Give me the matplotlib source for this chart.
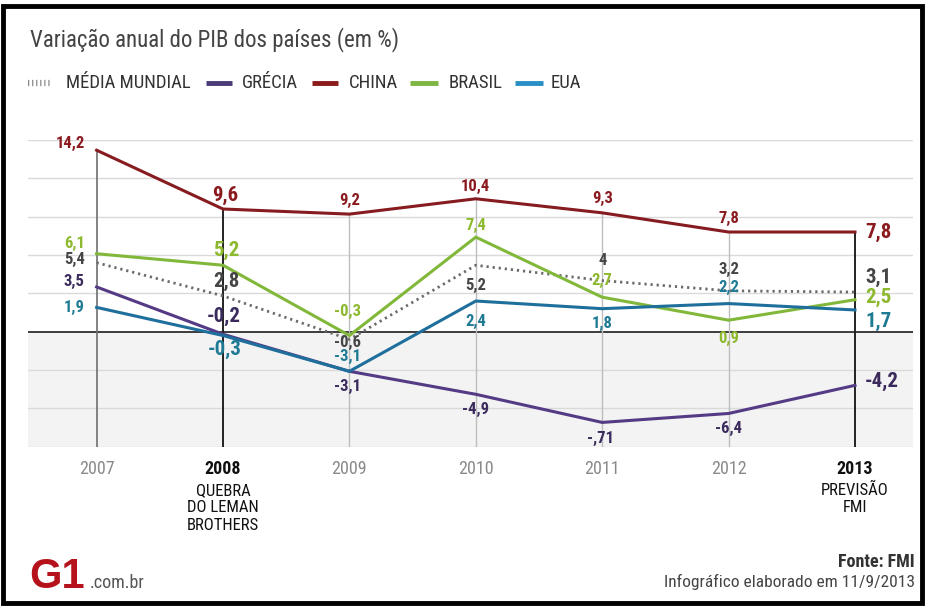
import matplotlib
matplotlib.use("Agg")
import matplotlib.pyplot as plt
from matplotlib import font_manager
from matplotlib.lines import Line2D
from matplotlib.patches import Rectangle
import matplotlib.transforms as mtransforms

# ---------------- data ----------------
years = [2007, 2008, 2009, 2010, 2011, 2012, 2013]
media_mundial = [5.4, 2.8, -0.6, 5.2, 4.0, 3.2, 3.1]
grecia = [3.5, -0.2, -3.1, -4.9, -7.1, -6.4, -4.2]
china = [14.2, 9.6, 9.2, 10.4, 9.3, 7.8, 7.8]
brasil = [6.1, 5.2, -0.3, 7.4, 2.7, 0.9, 2.5]
eua = [1.9, -0.3, -3.1, 2.4, 1.8, 2.2, 1.7]
label_overrides = {("MÉDIA MUNDIAL", 2011): "4", ("GRÉCIA", 2011): "-,71"}
year_notes = {2008: "QUEBRA\nDO LEMAN\nBROTHERS", 2013: "PREVISÃO\nFMI"}
title = "Variação anual do PIB dos países (em %)"
source = "Fonte: FMI"
credit = "Infográfico elaborado em 11/9/2013"

# ---------------- style ----------------
avail = {f.name for f in font_manager.fontManager.ttflist}
narrow = next((f for f in ["Liberation Sans Narrow", "Roboto Condensed", "Liberation Sans"] if f in avail), "DejaVu Sans")
plt.rcParams["font.family"] = [narrow, "DejaVu Sans"]

series = [
    ("MÉDIA MUNDIAL", media_mundial, "#6b6b6b", "#454545"),
    ("GRÉCIA", grecia, "#553a85", "#3b2a5c"),
    ("CHINA", china, "#861b20", "#8b1a1f"),
    ("BRASIL", brasil, "#82b83a", "#8db92e"),
    ("EUA", eua, "#1e6f9c", "#1f7a94"),
]

# label offsets in pixels (dx, dy) per series per year
offsets = {
    "CHINA":         [(-12, 7), (2, 14), (0, 14), (0, 12), (0, 14), (0, 14), (10, 0)],
    "BRASIL":        [(-12, 10), (3, 15), (-2, 24), (0, 12), (0, 17), (0, -18), (10, 2)],
    "MÉDIA MUNDIAL": [(-12, 3), (3, 14), (-2, -3), (0, -20), (0, 20), (0, 21), (10, 15)],
    "GRÉCIA":        [(-12, 5), (1, 18), (-2, -15), (0, -15), (-2, -16), (0, -15), (10, 4)],
    "EUA":           [(-12, 0), (2, -14), (-2, 15), (0, -20), (0, -15), (0, 16), (10, -11)],
}

W, H = 928, 606
fig = plt.figure(figsize=(W / 100, H / 100), dpi=100)
fig.patch.set_facecolor("white")

# axes placed in pixel geometry
left_px, right_px, top_px, bottom_px = 28, 913, 140.0, 446.7
ax = fig.add_axes([left_px / W, (H - bottom_px) / H, (right_px - left_px) / W, (bottom_px - top_px) / H])
ax.set_xlim(2006.457, 2013.459)
ax.set_ylim(-9, 15)
ax.axis("off")

# background for negative region
ax.axhspan(-9, 0, color="#f3f3f3", zorder=0)
for g in [-9, -6, -3, 3, 6, 9, 12, 15]:
    ax.axhline(g, color="#dadada", lw=1.0, zorder=1)
ax.axhline(0, color="#3c3c3c", lw=1.4, zorder=2)

# vertical year lines up to the top series value
for i, yr in enumerate(years):
    if yr in (2008, 2013):
        c, lw = "#222222", 1.4
    elif yr == 2007:
        c, lw = "#6e6e6e", 1.2
    else:
        c, lw = "#bdbdbd", 1.0
    ax.vlines(yr, -9, china[i], color=c, lw=lw, zorder=2)

# series lines
for name, vals, lc, tc in series:
    if name == "MÉDIA MUNDIAL":
        ax.plot(years, vals, color=lc, lw=2.0, linestyle=(0, (0.8, 1.4)), zorder=3)
    else:
        ax.plot(years, vals, color=lc, lw=2.2, zorder=4, solid_joinstyle="miter")

# data labels
for name, vals, lc, tc in series:
    for i, (yr, v) in enumerate(zip(years, vals)):
        txt = label_overrides.get((name, yr), f"{v:.1f}".replace(".", ","))
        dx, dy = offsets[name][i]
        big = yr in (2008, 2013)
        ha = "right" if yr == 2007 else ("left" if yr == 2013 else "center")
        ax.annotate(txt, xy=(yr, v), xytext=(dx, dy), textcoords="offset pixels",
                    ha=ha, va="center", fontsize=15 if big else 12,
                    fontweight="bold", color=tc, zorder=6)

# x labels
trans = mtransforms.blended_transform_factory(ax.transData, ax.transAxes)
ylab = -(469 - bottom_px) / (bottom_px - top_px)
for yr in years:
    bold = yr in year_notes
    ax.text(yr, ylab, str(yr), transform=trans, ha="center", va="center",
            fontsize=13, fontweight="bold" if bold else "normal",
            color="#111111" if bold else "#8a8a8a")
    if bold:
        ax.text(yr, ylab - 0.045, year_notes[yr], transform=trans, ha="center", va="top",
                fontsize=12, color="#111111", linespacing=1.2)

# title
fig.text(30 / W, 1 - 40 / H, title, ha="left", va="center", fontsize=16.5, color="#444444")

# legend (manual)
ly = 1 - 83 / H
leg_items = [
    ("MÉDIA MUNDIAL", 28, 50, 66),
    ("GRÉCIA", 206, 232, 242),
    ("CHINA", 312, 338, 349),
    ("BRASIL", 410, 438, 449),
    ("EUA", 515, 543, 551),
]
colors_leg = {"MÉDIA MUNDIAL": "#8a8a8a", "GRÉCIA": "#4b3a78", "CHINA": "#8b1a1a",
              "BRASIL": "#7db642", "EUA": "#2a8fc4"}
for name, x0, x1, tx in leg_items:
    if name == "MÉDIA MUNDIAL":
        ln = Line2D([x0 / W, x1 / W], [ly, ly], transform=fig.transFigure, color=colors_leg[name],
                    lw=4.5, linestyle=(0, (0.2, 0.45)), dash_capstyle="butt")
    else:
        ln = Line2D([x0 / W, x1 / W], [ly, ly], transform=fig.transFigure, color=colors_leg[name],
                    lw=3.5, solid_capstyle="butt")
    fig.add_artist(ln)
    fig.text(tx / W, ly, name, ha="left", va="center", fontsize=13.5, color="#333333")

# footer
fig.text(29 / W, 1 - 577 / H, "G1", ha="left", va="center", fontsize=30, fontweight="bold",
         color="#b5121b", family=["Liberation Sans", "DejaVu Sans"])
fig.text(90 / W, 1 - 583 / H, ".com.br", ha="left", va="center", fontsize=13, color="#555555")
fig.text(915 / W, 1 - 562 / H, source, ha="right", va="center", fontsize=13, fontweight="bold", color="#333333")
fig.text(915 / W, 1 - 582 / H, credit, ha="right", va="center", fontsize=12.5, color="#444444")

# frame
fig.add_artist(Rectangle((2.5 / W, 3.5 / H), (W - 8) / W, (H - 9.5) / H, transform=fig.transFigure,
                         fill=False, edgecolor="black", lw=3.5))

fig.savefig("out.png", dpi=100)
